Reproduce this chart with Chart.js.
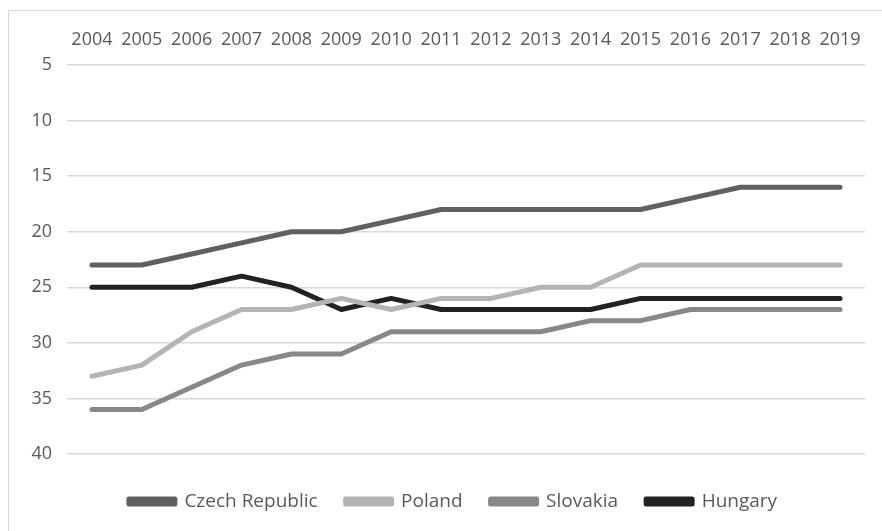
<!DOCTYPE html>
<html>
<head>
<meta charset="utf-8">
<script src="https://cdn.jsdelivr.net/npm/chart.js@4"></script>
<style>
  html, body { margin: 0; padding: 0; background: #fff; overflow: hidden; }
  .box {
    position: absolute; left: 8px; top: 10px;
    width: 928px; height: 540px;
    border: 1.5px solid #d9d9d9;
  }
  .chart { position: absolute; left: 0; top: 0; width: 928px; height: 510px; }
</style>
</head>
<body>
<div class="box">
  <div class="chart"><canvas id="rankChart"></canvas></div>
</div>
<script>
const years = ['2004', '2005', '2006', '2007', '2008', '2009', '2010', '2011',
  '2012', '2013', '2014', '2015', '2016', '2017', '2018', '2019'];
const czech = [23, 23, 22, 21, 20, 20, 19, 18, 18, 18, 18, 18, 17, 16, 16, 16];
const poland = [33, 32, 29, 27, 27, 26, 27, 26, 26, 25, 25, 23, 23, 23, 23, 23];
const slovakia = [36, 36, 34, 32, 31, 31, 29, 29, 29, 29, 28, 28, 27, 27, 27, 27];
const hungary = [25, 25, 25, 24, 25, 27, 26, 27, 27, 27, 27, 26, 26, 26, 26, 26];
const yTicks = [5, 10, 15, 20, 25, 30, 35, 40];

const textColor = '#595959';
const fontFamily = '"Open Sans", "Noto Sans", sans-serif';

function line(label, data, color) {
  return {
    label: label,
    data: data,
    xAxisID: 'x',
    yAxisID: 'y',
    borderColor: color,
    backgroundColor: color,
    borderWidth: 5,
    borderCapStyle: 'round',
    borderJoinStyle: 'round',
    pointRadius: 0,
    tension: 0,
    fill: false
  };
}

// blank axis used only to reserve space
function spacer(axis, position, size) {
  return {
    axis: axis,
    type: axis === 'x' ? 'category' : 'linear',
    position: position,
    grid: { display: false, drawTicks: false },
    border: { display: false },
    ticks: { display: false },
    afterFit: function (scale) {
      if (axis === 'x') scale.height = size; else scale.width = size;
    }
  };
}

new Chart(document.getElementById('rankChart'), {
  type: 'line',
  data: {
    labels: years,
    datasets: [
      line('Czech Republic', czech, '#606060'),
      line('Poland', poland, '#b4b4b4'),
      line('Slovakia', slovakia, '#888888'),
      line('Hungary', hungary, '#222222')
    ]
  },
  options: {
    responsive: true,
    maintainAspectRatio: false,
    animation: false,
    layout: { padding: { left: 0, right: 40, top: 0, bottom: 0 } },
    plugins: {
      tooltip: { enabled: false },
      legend: {
        position: 'bottom',
        labels: {
          color: textColor,
          font: { family: fontFamily, size: 19 },
          boxWidth: 46,
          boxHeight: 5,
          padding: 28
        }
      }
    },
    scales: {
      x: {
        position: 'top',
        offset: true,
        grid: { display: false, drawTicks: false },
        border: { display: false },
        ticks: {
          color: textColor,
          font: { family: fontFamily, size: 18 },
          maxRotation: 0,
          autoSkip: false,
          padding: 14
        },
        afterFit: function (scale) { scale.height = 54; }
      },
      gapBottom: spacer('x', 'bottom', 10),
      y: {
        reverse: true,
        min: 5,
        max: 40,
        afterBuildTicks: function (scale) {
          scale.ticks = yTicks.map(function (v) { return { value: v }; });
        },
        grid: { color: '#d9d9d9', lineWidth: 1.5, drawTicks: false },
        border: { display: false },
        ticks: {
          color: textColor,
          font: { family: fontFamily, size: 18 },
          padding: 15
        },
        afterFit: function (scale) { scale.width = 58; }
      },
      gapRight: spacer('y', 'right', 32)
    }
  }
});
</script>
</body>
</html>
